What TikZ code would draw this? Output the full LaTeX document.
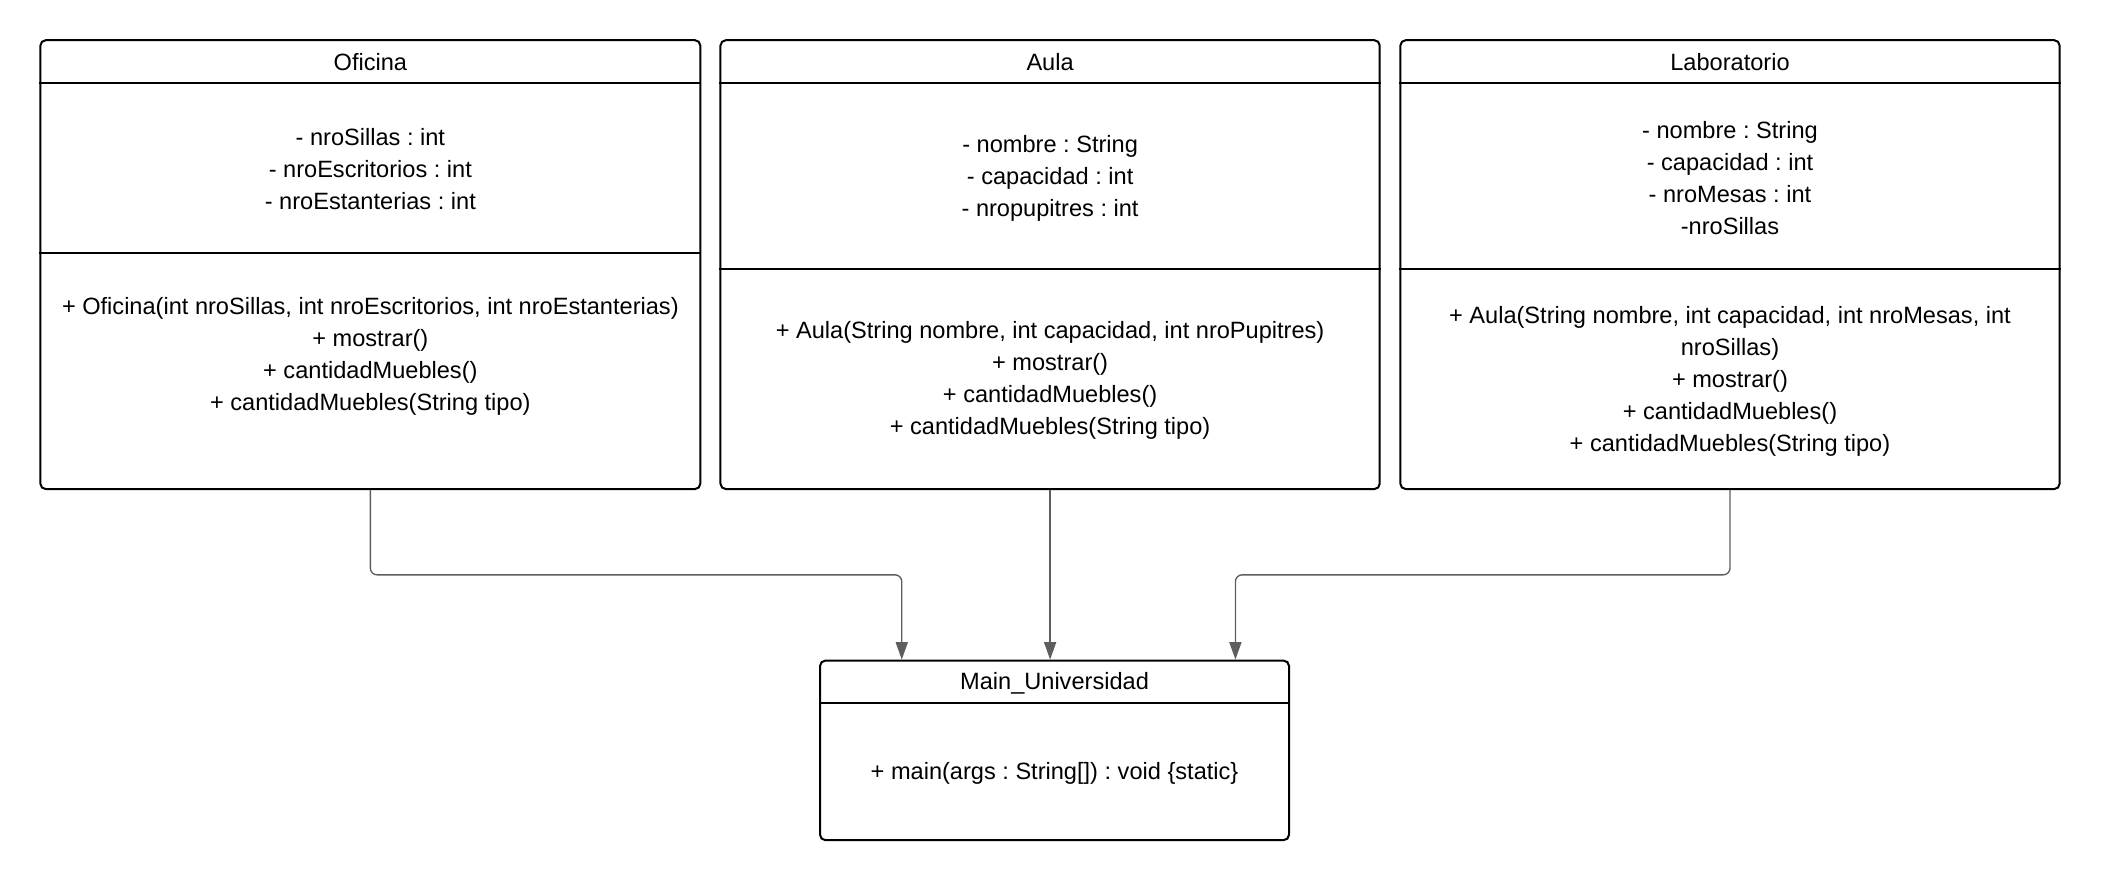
\documentclass[tikz,border=0pt]{standalone}
\usepackage{fontspec}
\setmainfont{Liberation Sans}
\frenchspacing
\usetikzlibrary{arrows.meta}
\definecolor{conncol}{HTML}{5E5E5E}
\tikzset{
  classbox/.style={draw=black, line width=1.5pt, rounded corners=4pt, inner sep=0pt, fill=white},
  sepline/.style={draw=black, line width=1.5pt},
  txt/.style={inner sep=0pt, align=center, font=\fontsize{17.6}{24}\selectfont, text=black},
  conn/.style={draw=conncol, line width=1pt, rounded corners=5pt, -{Triangle[length=13pt,width=9pt]}},
}
\begin{document}
\begin{tikzpicture}[x=1pt,y=1pt]
\useasboundingbox (0,0) rectangle (1568,-656.8);
% class boxes
\node[classbox, minimum width=492.5pt, minimum height=335pt] (ofi) at (276.4,-197.5) {};
\node[classbox, minimum width=492pt, minimum height=335pt] (aula) at (783.7,-197.5) {};
\node[classbox, minimum width=492pt, minimum height=335pt] (lab) at (1291.1,-197.5) {};
\node[classbox, minimum width=350pt, minimum height=134pt] (main) at (787,-560) {};
% separators
\draw[sepline] (ofi.west |- 0,-62) -- (ofi.east |- 0,-62);
\draw[sepline] (ofi.west |- 0,-189) -- (ofi.east |- 0,-189);
\draw[sepline] (aula.west |- 0,-62) -- (aula.east |- 0,-62);
\draw[sepline] (aula.west |- 0,-201) -- (aula.east |- 0,-201);
\draw[sepline] (lab.west |- 0,-62) -- (lab.east |- 0,-62);
\draw[sepline] (lab.west |- 0,-201) -- (lab.east |- 0,-201);
\draw[sepline] (main.west |- 0,-525) -- (main.east |- 0,-525);
% texts
\node[txt] (ofiT) at (276.4,-46) {Oficina};
\node[txt] (ofiA) at (276.4,-126) {- nroSillas : int\\- nroEscritorios : int\\- nroEstanterias : int};
\node[txt] (ofiM) at (276.4,-266) {+ Oficina(int nroSillas, int nroEscritorios, int nroEstanterias)\\+ mostrar()\\+ cantidadMuebles()\\+ cantidadMuebles(String tipo)};
\node[txt] (aulaT) at (783.7,-46) {Aula};
\node[txt] (aulaA) at (783.7,-133) {- nombre : String\\- capacidad : int\\- nropupitres : int};
\node[txt] (aulaM) at (783.7,-284) {+ Aula(String nombre, int capacidad, int nroPupitres)\\+ mostrar()\\+ cantidadMuebles()\\+ cantidadMuebles(String tipo)};
\node[txt] (labT) at (1291.1,-46) {Laboratorio};
\node[txt] (labA) at (1291.1,-133) {- nombre : String\\- capacidad : int\\- nroMesas : int\\-nroSillas};
\node[txt] (labM) at (1291.1,-284.5) {+ Aula(String nombre, int capacidad, int nroMesas, int\\nroSillas)\\+ mostrar()\\+ cantidadMuebles()\\+ cantidadMuebles(String tipo)};
\node[txt] (mainT) at (787,-510) {Main\_Universidad};
\node[txt] (mainM) at (787,-577) {+ main(args : String[]) : void \{static\}};
% connectors
\coordinate (inA) at ([xshift=-114pt]main.north);
\coordinate (inC) at ([xshift=135pt]main.north);
\draw[conn] (ofi.south) -- (ofi.south |- 0,-429) -| (inA);
\draw[conn] (aula.south) -- (aula.south |- main.north);
\draw[conn] (lab.south) -- (lab.south |- 0,-429) -| (inC);
\end{tikzpicture}
\end{document}
